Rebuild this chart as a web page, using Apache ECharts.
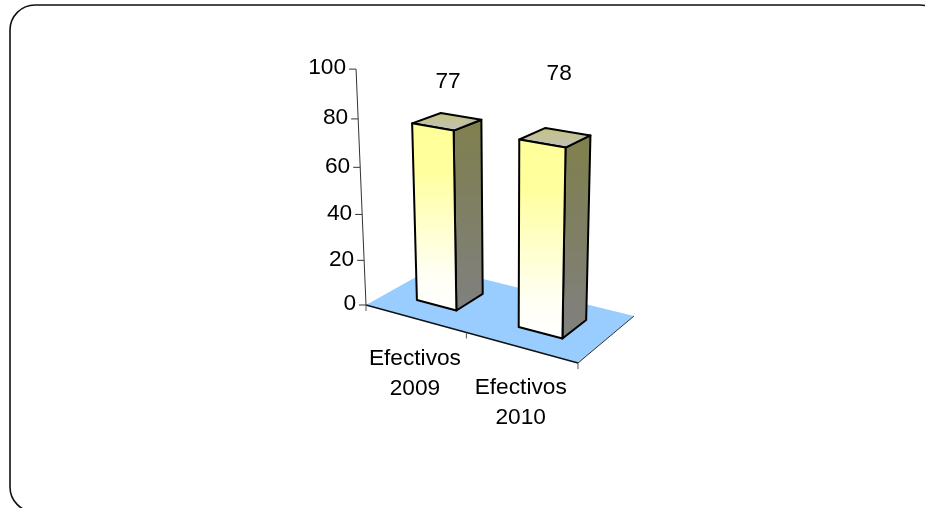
<!DOCTYPE html>
<html><head><meta charset="utf-8">
<style>html,body{margin:0;padding:0;background:#fff}#c{width:925px;height:508px}</style>
<script src="https://cdn.jsdelivr.net/npm/echarts@6/dist/echarts.min.js"></script>
</head><body><div id="c"></div>
<script>
const categories = ['Efectivos\n2009', 'Efectivos\n2010'];
const values = [77, 78];
const tickValues = [0, 20, 40, 60, 80, 100];
const tickLabels = ['0', '20', '40', '60', '80', '100'];

// Perspective camera: maps (u along categories, t along values, w depth), all 0..1, to the screen
const cam = {den:[-0.0998,-0.0653,0.0879], xn:[366,154.3,-33.2,106.1], yn:[305,21.8,-240.4,-14.5]};
const FONT = '"Liberation Sans", Arial, sans-serif';
const FS = 22.7;
const depthFront = 0.31, depthBack = 0.72, barHalfBand = 0.2;
const labelLift = [40, 64], labelShift = [1, 4];

function proj(u,t,w){
  const d = 1+cam.den[0]*u+cam.den[1]*t+cam.den[2]*w;
  return [(cam.xn[0]+cam.xn[1]*u+cam.xn[2]*t+cam.xn[3]*w)/d,
          (cam.yn[0]+cam.yn[1]*u+cam.yn[2]*t+cam.yn[3]*w)/d];
}
function project(cs,px,py,w){ return proj((px-cs.x)/cs.width,(cs.y+cs.height-py)/cs.height,w); }
const vgrad = (stops)=>({type:'linear',x:0,y:0,x2:0,y2:1,colorStops:stops.map(s=>({offset:s[0],color:s[1]}))});
function poly(points,fill,z2){
  return {type:'polygon',shape:{points},z2:z2||0,style:{fill,stroke:'#000',lineWidth:2,lineJoin:'round'}};
}

const chart = echarts.init(document.getElementById('c'),null,{renderer:'canvas'});
chart.setOption({
  animation:false,
  backgroundColor:'#fff',
  graphic:[{type:'rect',silent:true,z:-1,shape:{x:10,y:5,width:935,height:507,r:25},style:{fill:'none',stroke:'#111',lineWidth:1.6}}],
  grid:{left:300,top:100,width:300,height:200},
  xAxis:{type:'category',data:categories,show:false},
  yAxis:{type:'value',min:0,max:100,interval:20,show:false},
  series:[
    {type:'custom',z:1,silent:true,data:[[0,0]],
     renderItem(p,api){
       const cs=p.coordSys, x0=cs.x, x1=cs.x+cs.width, yb=cs.y+cs.height;
       const A=project(cs,x0,yb,0),B=project(cs,x1,yb,0),C=project(cs,x1,yb,1),D=project(cs,x0,yb,1);
       return {type:'group',children:[
         {type:'polygon',shape:{points:[A,B,C,D]},style:{fill:'#99CCFF',stroke:'none'}},
         {type:'polyline',shape:{points:[B,C]},style:{stroke:'#333',lineWidth:1,fill:'none'}},
         {type:'polyline',shape:{points:[A,B]},style:{stroke:'#111',lineWidth:1.5,fill:'none'}}
       ]};
     }},
    {type:'custom',z:2,silent:true,data:tickValues.map((v,i)=>[0,v,i]),
     renderItem(p,api){
       const cs=p.coordSys, v=api.value(1), yb=cs.y+cs.height;
       const py=api.coord([0,v])[1];
       const P=project(cs,cs.x,py,0);
       const kids=[
         {type:'line',shape:{x1:P[0]-7,y1:P[1],x2:P[0],y2:P[1]},style:{stroke:'#333',lineWidth:1}},
         {type:'text',style:{text:tickLabels[api.value(2)],x:P[0]-10,y:P[1]-1,align:'right',verticalAlign:'middle',font:FS+'px '+FONT,fill:'#000'}}
       ];
       if(p.dataIndex===0){
         const Q=project(cs,cs.x,cs.y,0);
         kids.push({type:'line',shape:{x1:P[0],y1:P[1],x2:Q[0],y2:Q[1]},style:{stroke:'#333',lineWidth:1}});
         [0,.5,1].forEach(f=>{
           const R=project(cs,cs.x+f*cs.width,yb,0);
           kids.push({type:'line',shape:{x1:R[0],y1:R[1],x2:R[0],y2:R[1]+6},style:{stroke:'#555',lineWidth:1}});
         });
       }
       return {type:'group',children:kids};
     }},
    {type:'custom',z:3,silent:true,data:categories.map((c,i)=>[i,0]),
     renderItem(p,api){
       const cs=p.coordSys, i=api.value(0), b=api.coord([i,0]);
       const P=project(cs,b[0],b[1],0);
       return {type:'text',style:{text:categories[i],x:P[0],y:P[1]+55,align:'center',verticalAlign:'middle',font:FS+'px '+FONT,lineHeight:30,fill:'#000'}};
     }},
    {type:'custom',z:4,silent:true,data:values.map((v,i)=>[i,v]),
     renderItem(p,api){
       const cs=p.coordSys, i=p.dataIndex, base=api.coord([api.value(0),0]), top=api.coord([api.value(0),api.value(1)]);
       const h=api.size([1,0])[0]*barHalfBand, l=base[0]-h, r=base[0]+h;
       const pt=(x,y,w)=>project(cs,x,y,w);
       const f=depthFront,k=depthBack;
       const front=[pt(l,top[1],f),pt(r,top[1],f),pt(r,base[1],f),pt(l,base[1],f)];
       const side=[pt(r,top[1],f),pt(r,top[1],k),pt(r,base[1],k),pt(r,base[1],f)];
       const cap=[pt(l,top[1],f),pt(r,top[1],f),pt(r,top[1],k),pt(l,top[1],k)];
       const mid=pt(base[0],top[1],(f+k)/2);
       return {type:'group',children:[
         poly(side,vgrad([[0,'#80804D'],[0.35,'#7F7F5E'],[1,'#808080']]),1),
         poly(cap,vgrad([[0,'#C4C47A'],[1,'#C0C0C0']]),2),
         poly(front,vgrad([[0,'#FFFF99'],[0.25,'#FFFF9E'],[0.8,'#FFFFF4'],[1,'#FFFFFF']]),3),
         {type:'text',z2:4,style:{text:String(values[i]),x:mid[0]+labelShift[i],y:mid[1]-labelLift[i],align:'center',verticalAlign:'middle',font:FS+'px '+FONT,fill:'#000'}}
       ]};
     }}
  ]
});
</script></body></html>
